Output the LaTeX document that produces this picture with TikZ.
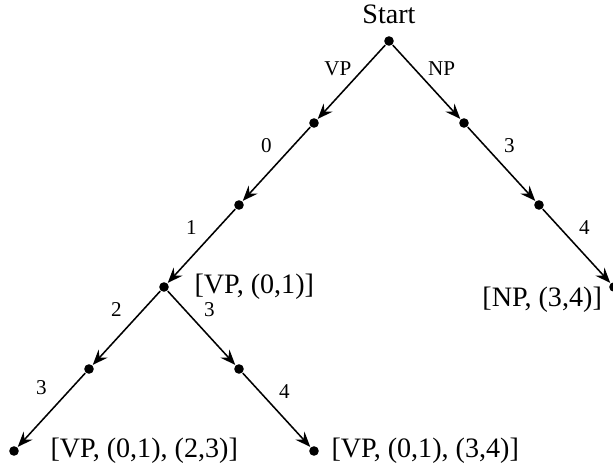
\documentclass[tikz,border=0pt]{standalone}
\usepackage{fontspec}
\setmainfont{Liberation Serif}
\usetikzlibrary{arrows.meta, positioning}
\tikzset{
  every picture/.style={line width=1.1pt},
  dot/.style={circle, fill=black, inner sep=0pt, minimum size=0.24cm, on grid},
  edge/.style={-{Stealth[length=0.38cm, width=0.3cm, inset=0.13cm]}},
  state/.style={font=\fontsize{20}{24}\selectfont, inner sep=1pt},
  tag/.style={font=\fontsize{15}{18}\selectfont, inner sep=0pt},
}
\begin{document}
\begin{tikzpicture}[
  node distance=2.05cm and 1.875cm,
  tagl/.style={tag, midway, xshift=-0.25cm, yshift=0.47cm},
  tagr/.style={tag, midway, xshift=0.2cm, yshift=0.45cm},
]
  \useasboundingbox (0,0) rectangle (15.325,-11.575);

  % the tree of dots
  \node[dot] (s) at (9.725,-1.025) {};
  \node[dot, below left=of s] (v1) {};
  \node[dot, below left=of v1] (v2) {};
  \node[dot, below left=of v2] (v3) {};
  \node[dot, below left=of v3] (l1) {};
  \node[dot, below left=of l1] (l2) {};
  \node[dot, below right=of v3] (r1) {};
  \node[dot, below right=of r1] (r2) {};
  \node[dot, below right=of s] (n1) {};
  \node[dot, below right=of n1] (n2) {};
  \node[dot, below right=of n2] (n3) {};

  % states
  \node[state, above=0.245cm of s] (st) {Start};
  \node[state, right=0.57cm of v3] (sv) {[VP, (0,1)]};
  \node[state, below left=-0.15cm and 0.15cm of n3] (sn) {[NP, (3,4)]};
  \node[state, right=0.72cm of l2] (svl) {[VP, (0,1), (2,3)]};
  \node[state, right=0.245cm of r2] (svr) {[VP, (0,1), (3,4)]};

  % edges
  \draw[edge] (s) -- (v1) node[tag, midway, xshift=-0.34cm, yshift=0.33cm] (tvp) {VP};
  \draw[edge] (v1) -- (v2) node[tagl] (t0) {0};
  \draw[edge] (v2) -- (v3) node[tagl] (t1) {1};
  \draw[edge] (v3) -- (l1) node[tagl] (t2) {2};
  \draw[edge] (l1) -- (l2) node[tagl, yshift=0.1cm] (t3a) {3};
  \draw[edge] (v3) -- (r1) node[tagr] (t3b) {3};
  \draw[edge] (r1) -- (r2) node[tagr] (t4a) {4};
  \draw[edge] (s) -- (n1) node[tag, midway, xshift=0.375cm, yshift=0.33cm] (tnp) {NP};
  \draw[edge] (n1) -- (n2) node[tagr] (t3c) {3};
  \draw[edge] (n2) -- (n3) node[tagr] (t4b) {4};
\end{tikzpicture}
\end{document}
